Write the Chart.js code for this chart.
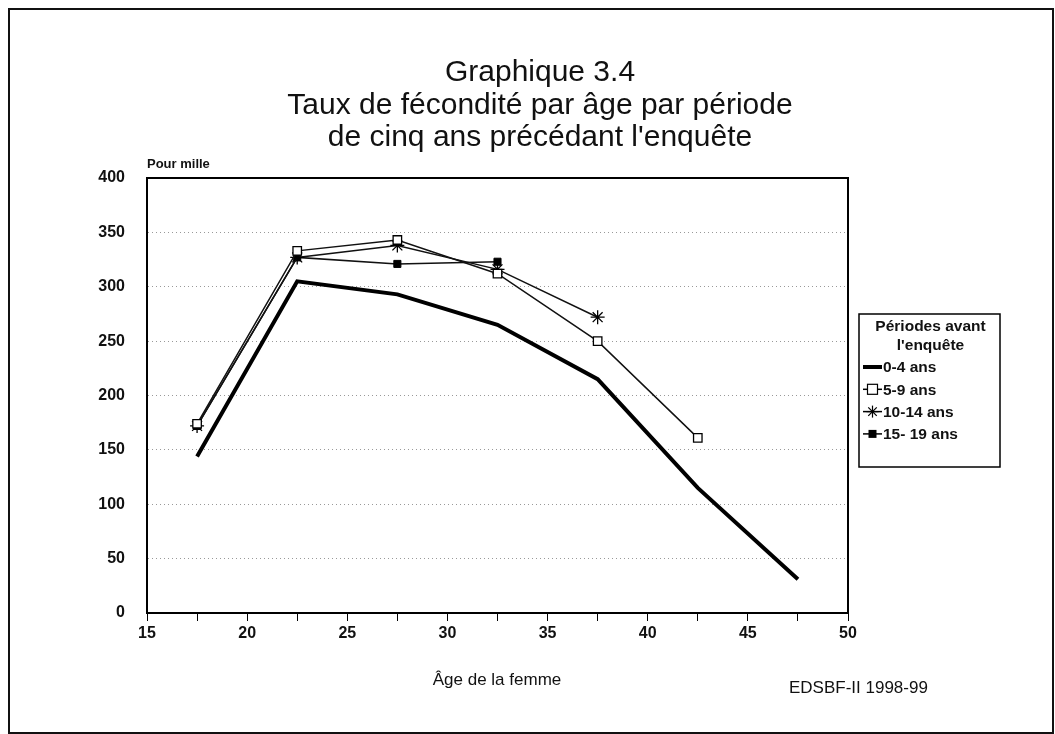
<!DOCTYPE html>
<html lang="fr">
<head>
<meta charset="utf-8">
<title>Graphique 3.4</title>
<script src="https://cdn.jsdelivr.net/npm/chart.js@4/dist/chart.umd.min.js"></script>
<style>
  html, body { margin: 0; padding: 0; background: #fff; }
  #cadre {
    position: absolute; left: 8px; top: 8px;
    width: 1042px; height: 722px;
    border: 2px solid #111;
  }
  #zone { position: absolute; left: 0; top: 0; width: 1055px; height: 734px; }
</style>
</head>
<body>
<div id="cadre"></div>
<div id="zone"><canvas id="graphique" width="1055" height="734"></canvas></div>
<script>
// groupes d'âge (centre de l'intervalle quinquennal)
const ages = [17.5, 22.5, 27.5, 32.5, 37.5, 42.5, 47.5];

// taux pour mille, par période avant l'enquête
const taux0_4 = [144, 305, 293, 265, 215, 115, 31];
const taux5_9 = [174, 333, 343, 312, 250, 161];
const taux10_14 = [172, 327, 338, 316, 272];
const taux15_19 = [172, 327, 321, 323];

const periodes = ["0-4 ans", "5-9 ans", "10-14 ans", "15- 19 ans"];
const titre = ["Graphique 3.4", "Taux de fécondité par âge par période", "de cinq ans précédant l'enquête"];

const POLICE = "Arial, 'Liberation Sans', sans-serif";

const points = (vals) => vals.map((v, i) => ({ x: ages[i], y: v }));

// --- textes, cadre du graphique et légende ---
const habillage = {
  id: "habillage",
  afterDraw(chart) {
    const { ctx, chartArea: a } = chart;
    ctx.save();

    // cadre de la zone de tracé
    ctx.strokeStyle = "#000";
    ctx.lineWidth = 2;
    ctx.strokeRect(a.left, a.top, a.right - a.left, a.bottom - a.top);

    // titre
    ctx.fillStyle = "#111";
    ctx.textAlign = "center";
    ctx.textBaseline = "middle";
    ctx.font = "30px " + POLICE;
    titre.forEach((t, i) => ctx.fillText(t, 540, 73 + i * 32.5));

    // unité
    ctx.textAlign = "left";
    ctx.font = "bold 13px " + POLICE;
    ctx.fillText("Pour mille", 147, 164);

    // titre de l'axe x et source
    ctx.textAlign = "center";
    ctx.font = "17px " + POLICE;
    ctx.fillText("Âge de la femme", 497, 680);
    ctx.textAlign = "left";
    ctx.fillText("EDSBF-II 1998-99", 789, 688);

    // légende
    const lx = 859, ly = 314, lw = 141, lh = 153;
    ctx.fillStyle = "#fff";
    ctx.fillRect(lx, ly, lw, lh);
    ctx.strokeStyle = "#000";
    ctx.lineWidth = 1.5;
    ctx.strokeRect(lx, ly, lw, lh);
    ctx.fillStyle = "#111";
    ctx.textAlign = "center";
    ctx.font = "bold 15.5px " + POLICE;
    ctx.fillText("Périodes avant", lx + lw / 2 + 1, 327);
    ctx.fillText("l'enquête", lx + lw / 2 + 1, 346);

    chart.data.datasets.forEach((ds, i) => {
      const y = 367 + i * 22.3;
      const x0 = 863, x1 = 882, xm = (x0 + x1) / 2;
      ctx.strokeStyle = "#000";
      ctx.lineWidth = ds.borderWidth;
      ctx.beginPath();
      ctx.moveTo(x0, y);
      ctx.lineTo(x1, y);
      ctx.stroke();
      ctx.lineWidth = 1.2;
      if (ds.pointStyle === "rect" && ds.pointBackgroundColor === "#fff") {
        ctx.fillStyle = "#fff";
        ctx.fillRect(xm - 5, y - 5, 10, 10);
        ctx.strokeRect(xm - 5, y - 5, 10, 10);
      } else if (ds.pointStyle === "rect") {
        ctx.fillStyle = "#000";
        ctx.fillRect(xm - 4, y - 4, 8, 8);
      } else if (ds.pointStyle === "star") {
        for (let k = 0; k < 4; k++) {
          const ang = k * Math.PI / 4;
          ctx.beginPath();
          ctx.moveTo(xm - 6 * Math.cos(ang), y - 6 * Math.sin(ang));
          ctx.lineTo(xm + 6 * Math.cos(ang), y + 6 * Math.sin(ang));
          ctx.stroke();
        }
      }
      ctx.fillStyle = "#111";
      ctx.textAlign = "left";
      ctx.font = "bold 15.5px " + POLICE;
      ctx.fillText(ds.label, 883, y + 1);
    });

    ctx.restore();
  }
};

new Chart(document.getElementById("graphique"), {
  type: "line",
  data: {
    datasets: [
      {
        label: periodes[0], data: points(taux0_4),
        borderColor: "#000", borderWidth: 4, pointRadius: 0, pointStyle: "line"
      },
      {
        label: periodes[1], data: points(taux5_9),
        borderColor: "#111", borderWidth: 1.5, pointStyle: "rect", pointRadius: 6,
        pointBackgroundColor: "#fff", pointBorderColor: "#000", pointBorderWidth: 1.3
      },
      {
        label: periodes[2], data: points(taux10_14),
        borderColor: "#111", borderWidth: 1.5, pointStyle: "star", pointRadius: 7,
        pointBackgroundColor: "#000", pointBorderColor: "#000", pointBorderWidth: 1.3
      },
      {
        label: periodes[3], data: points(taux15_19),
        borderColor: "#111", borderWidth: 1.5, pointStyle: "rect", pointRadius: 5,
        pointBackgroundColor: "#000", pointBorderColor: "#000", pointBorderWidth: 1
      }
    ]
  },
  options: {
    responsive: false,
    animation: false,
    layout: { padding: { left: 0, right: 207, top: 178, bottom: 0 } },
    plugins: { legend: { display: false }, title: { display: false }, tooltip: { enabled: false } },
    elements: { line: { tension: 0 } },
    scales: {
      x: {
        type: "linear", min: 15, max: 50,
        afterFit: (s) => { s.height = 121; },
        border: { color: "#000", width: 2 },
        grid: { drawOnChartArea: false, drawTicks: true, tickLength: 8, color: "#000", lineWidth: 1 },
        ticks: {
          stepSize: 2.5, autoSkip: false, maxRotation: 0, padding: 3, color: "#111",
          font: { family: POLICE, size: 16, weight: "bold" },
          callback: (v) => (v % 5 === 0 ? v : "")
        }
      },
      y: {
        min: 0, max: 400,
        afterFit: (s) => { s.width = 147; },
        border: { color: "#000", width: 2, dash: [1, 3] },
        grid: { color: "#999", lineWidth: 1, drawTicks: false },
        ticks: {
          stepSize: 50, padding: 22, color: "#111",
          font: { family: POLICE, size: 16, weight: "bold" }
        }
      }
    }
  },
  plugins: [habillage]
});
</script>
</body>
</html>
